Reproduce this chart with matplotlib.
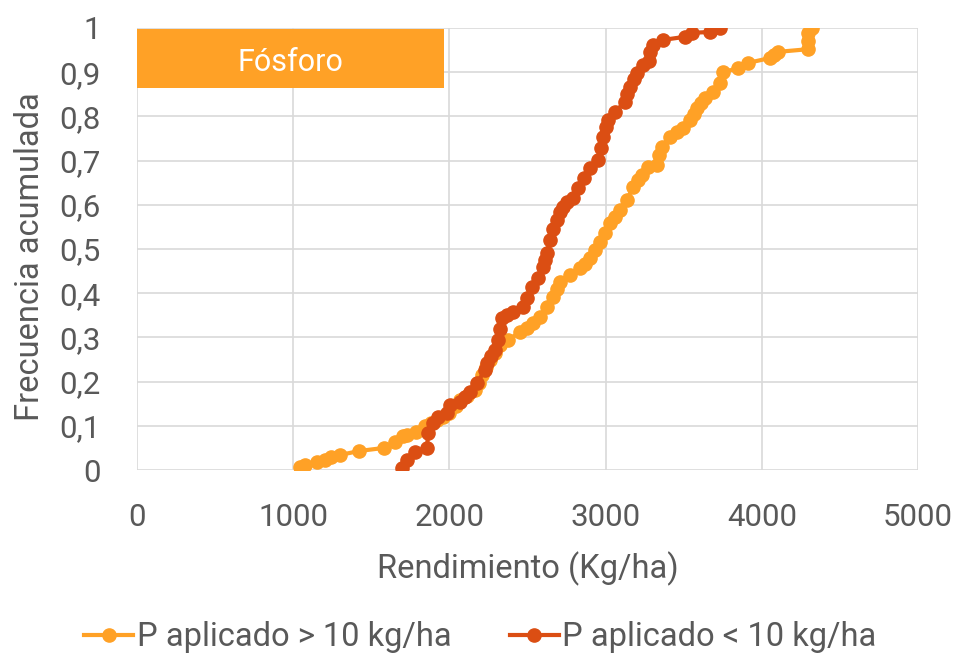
import matplotlib.pyplot as plt
from matplotlib.patches import Rectangle

# Curvas de frecuencia acumulada del rendimiento
rend_alto = [1044, 1075, 1150, 1204, 1240, 1300, 1421, 1581, 1652, 1703, 1730, 1786,
             1844, 1880, 1920, 1960, 2000, 2040, 2068, 2110, 2164, 2190, 2208, 2235,
             2260, 2290, 2324, 2375, 2452, 2500, 2535, 2580, 2625, 2663, 2690, 2708,
             2772, 2836, 2868, 2900, 2932, 2965, 2996, 3028, 3060, 3092, 3137, 3175,
             3205, 3233, 3271, 3329, 3345, 3361, 3412, 3455, 3496, 3540, 3565, 3585,
             3610, 3636, 3688, 3732, 3752, 3848, 3912, 4052, 4080, 4104, 4296, 4296,
             4296, 4321]
frec_alto = [0.007, 0.011, 0.018, 0.023, 0.030, 0.034, 0.043, 0.050, 0.063, 0.077, 0.080, 0.086,
             0.100, 0.106, 0.113, 0.120, 0.128, 0.145, 0.158, 0.167, 0.180, 0.197, 0.215, 0.232,
             0.250, 0.265, 0.283, 0.294, 0.312, 0.322, 0.333, 0.346, 0.369, 0.391, 0.410, 0.425,
             0.441, 0.457, 0.466, 0.480, 0.498, 0.515, 0.536, 0.559, 0.572, 0.588, 0.611, 0.640,
             0.655, 0.667, 0.686, 0.690, 0.712, 0.731, 0.753, 0.765, 0.774, 0.792, 0.805, 0.819,
             0.830, 0.842, 0.855, 0.876, 0.900, 0.909, 0.921, 0.932, 0.940, 0.946, 0.952, 0.970,
             0.989, 1.000]

rend_bajo = [1697, 1728, 1780, 1857, 1863, 1895, 1927, 1985, 2004, 2068, 2100, 2132,
             2177, 2228, 2240, 2265, 2292, 2311, 2325, 2337, 2370, 2407, 2471, 2497,
             2529, 2567, 2599, 2612, 2625, 2644, 2665, 2689, 2710, 2727, 2753, 2791,
             2823, 2860, 2900, 2951, 2968, 2983, 3000, 3015, 3060, 3124, 3140, 3156,
             3180, 3201, 3239, 3280, 3285, 3303, 3367, 3508, 3553, 3668, 3732]
frec_bajo = [0.005, 0.023, 0.041, 0.050, 0.084, 0.106, 0.120, 0.129, 0.147, 0.154, 0.165, 0.176,
             0.197, 0.226, 0.242, 0.257, 0.271, 0.294, 0.320, 0.344, 0.350, 0.357, 0.369, 0.389,
             0.414, 0.434, 0.459, 0.475, 0.491, 0.520, 0.545, 0.566, 0.583, 0.595, 0.606, 0.616,
             0.638, 0.660, 0.683, 0.701, 0.728, 0.753, 0.775, 0.792, 0.810, 0.833, 0.850, 0.867,
             0.885, 0.898, 0.916, 0.925, 0.946, 0.962, 0.973, 0.980, 0.989, 0.991, 1.000]

etiquetas = ["P aplicado > 10 kg/ha", "P aplicado < 10 kg/ha"]
x_ticks = [0, 1000, 2000, 3000, 4000, 5000]
y_ticks = [0, 0.1, 0.2, 0.3, 0.4, 0.5, 0.6, 0.7, 0.8, 0.9, 1]

naranja = "#FFA126"
rojo = "#DB4E13"
gris = "#595959"

plt.rcParams['font.family'] = ['Roboto', 'DejaVu Sans']

fig = plt.figure(figsize=(9.57, 6.57), dpi=100)
ax = fig.add_axes([0.1432, 0.2846, 0.816, 0.6728])

ax.plot(rend_alto, frec_alto, color=naranja, lw=3, marker='o', ms=9.5,
        label=etiquetas[0], zorder=3)
ax.plot(rend_bajo, frec_bajo, color=rojo, lw=3, marker='o', ms=9.5,
        label=etiquetas[1], zorder=4)

ax.set_xlim(0, 5000)
ax.set_ylim(0, 1)
ax.set_xticks(x_ticks)
ax.set_yticks(y_ticks)
ax.set_yticklabels([("%g" % v).replace(".", ",") for v in y_ticks])
ax.grid(True, color="#D9D9D9", lw=1.2)
ax.set_axisbelow(True)
for s in ax.spines.values():
    s.set_visible(False)
ax.tick_params(length=0, labelsize=22.5, labelcolor=gris)
ax.tick_params(axis='x', pad=24)
ax.tick_params(axis='y', pad=26)

ax.set_xlabel("Rendimiento (Kg/ha)", fontsize=23.5, color=gris, labelpad=14)
ax.set_ylabel("Frecuencia acumulada", fontsize=23.5, color=gris)
ax.yaxis.set_label_coords(-0.117, 0.482)

# Recuadro del titulo
ax.add_patch(Rectangle((0, 0.864), 0.393, 0.134, transform=ax.transAxes,
                       facecolor=naranja, edgecolor='none', zorder=5, clip_on=False))
ax.text(0.1965, 0.922, "Fósforo", transform=ax.transAxes, ha='center', va='center',
        color='white', fontsize=22, zorder=6)

leg = fig.legend(loc='center', bbox_to_anchor=(0.502, 0.03), ncol=2, frameon=False,
                 fontsize=23.5, handlelength=1.5, handletextpad=0.1, columnspacing=1.8,
                 labelcolor=gris)

fig.savefig("out.png", dpi=100)
